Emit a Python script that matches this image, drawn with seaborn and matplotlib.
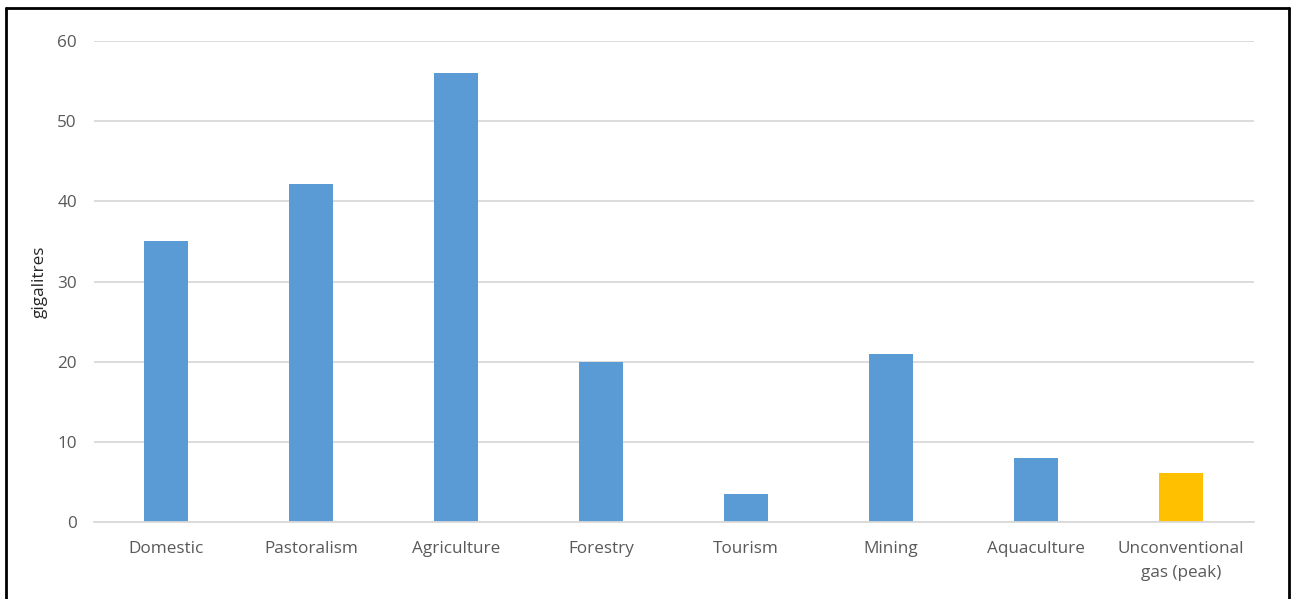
import matplotlib
matplotlib.use("Agg")
import matplotlib.pyplot as plt
from matplotlib.lines import Line2D
import seaborn as sns
import pandas as pd

categories = ["Domestic", "Pastoralism", "Agriculture", "Forestry", "Tourism",
              "Mining", "Aquaculture", "Unconventional\ngas (peak)"]
values = [35, 42.2, 56, 20, 3.5, 21, 8, 6.1]
bar_colors = ["#5B9BD5"] * 7 + ["#FFC000"]
y_ticks = [0, 10, 20, 30, 40, 50, 60]

sns.set_theme(style="white")
plt.rcParams["font.family"] = ["Open Sans", "DejaVu Sans"]

df = pd.DataFrame({"category": categories, "value": values})

fig = plt.figure(figsize=(12.96, 5.99), dpi=100)
ax = fig.add_axes([93.5 / 1296, 1 - 522 / 599, (1253.5 - 93.5) / 1296, (522 - 41) / 599])

sns.barplot(data=df, x="category", y="value", hue="category", palette=bar_colors,
            width=0.31, legend=False, saturation=1, linewidth=0, ax=ax)

ax.set_ylim(0, 60)
ax.set_xlim(-0.5, len(categories) - 0.5)
ax.set_yticks(y_ticks)
ax.yaxis.grid(True, color="#D9D9D9", linewidth=1.3)
ax.set_axisbelow(True)
for side in ["top", "right", "left"]:
    ax.spines[side].set_visible(False)
ax.spines["bottom"].set_color("#D9D9D9")
ax.spines["bottom"].set_linewidth(1.3)
ax.tick_params(axis="both", length=0, labelsize=12.3, labelcolor="#595959")
ax.tick_params(axis="y", pad=12)
ax.tick_params(axis="x", pad=14)
for lbl in ax.get_xticklabels():
    lbl.set_linespacing(1.6)
ax.set_xlabel("")
ax.set_ylabel("gigalitres", fontsize=12.3, color="#262626", labelpad=7)

# frame around the chart (open at the bottom)
frame_kw = dict(color="black", linewidth=2, transform=fig.transFigure)
fig.add_artist(Line2D([5.5 / 1296, 5.5 / 1296], [0, 1 - 7.5 / 599], **frame_kw))
fig.add_artist(Line2D([5.5 / 1296, 1289 / 1296], [1 - 7.5 / 599, 1 - 7.5 / 599], **frame_kw))
fig.add_artist(Line2D([1289 / 1296, 1289 / 1296], [0, 1 - 7.5 / 599], **frame_kw))

fig.savefig("out.png", dpi=100)
